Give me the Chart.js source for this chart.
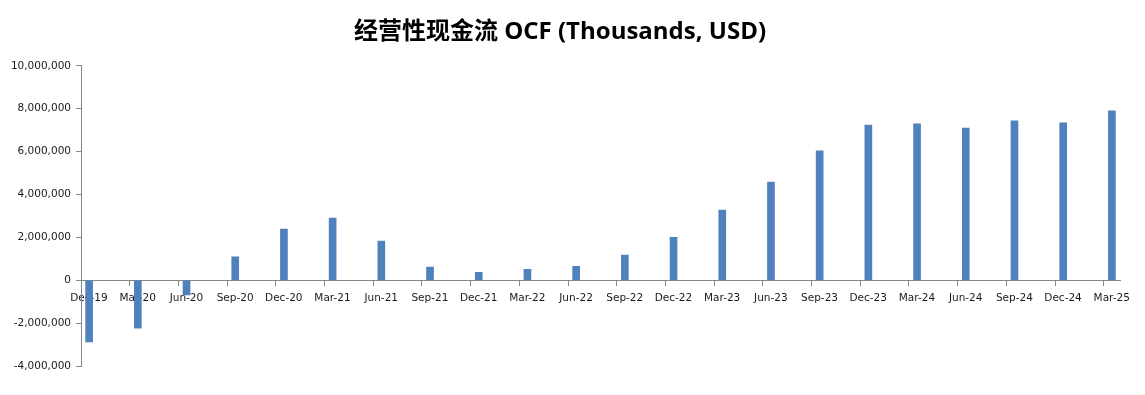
<!DOCTYPE html>
<html>
<head>
<meta charset="utf-8">
<script src="https://cdn.jsdelivr.net/npm/chart.js@4/dist/chart.umd.min.js"></script>
<style>
  html, body { margin: 0; padding: 0; background: #fff; }
  #wrap { width: 1145px; height: 395px; position: relative; }
</style>
</head>
<body>
<div id="wrap"><canvas id="c" width="1145" height="395"></canvas></div>
<script>
// Data (thousands USD)
const titleText = '经营性现金流 OCF (Thousands, USD)';
const categories = ['Dec-19','Mar-20','Jun-20','Sep-20','Dec-20','Mar-21','Jun-21','Sep-21','Dec-21','Mar-22','Jun-22','Sep-22','Dec-22','Mar-23','Jun-23','Sep-23','Dec-23','Mar-24','Jun-24','Sep-24','Dec-24','Mar-25'];
const ocfValues = [-2880000,-2240000,-680000,1090000,2380000,2900000,1820000,610000,370000,510000,650000,1170000,2000000,3270000,4580000,6030000,7240000,7290000,7100000,7430000,7340000,7900000];
const yTickMin = -4000000;
const yTickMax = 10000000;
const yTickStep = 2000000;

// Date axis in months: each quarter spans 3 months, bar sits in the first month of its quarter
const monthsPerCategory = 3;
const points = categories.map((c, i) => ({ x: i * monthsPerCategory + 0.5, y: ocfValues[i] }));

const tickFont = { family: "'DejaVu Sans', sans-serif", size: 10.5 };

new Chart(document.getElementById('c'), {
  type: 'bar',
  data: {
    datasets: [{
      data: points,
      backgroundColor: '#4f81bd',
      borderWidth: 0,
      barThickness: 7
    }]
  },
  options: {
    responsive: false,
    animation: false,
    layout: { padding: { left: 0, right: 25, top: 0, bottom: 29 } },
    plugins: {
      legend: { display: false },
      tooltip: { enabled: false },
      title: {
        display: true,
        text: titleText,
        color: '#000',
        font: { family: "'Open Sans', 'Noto Sans CJK SC', sans-serif", size: 24, weight: 'bold' },
        padding: { top: 18, bottom: 19 }
      }
    },
    scales: {
      x: {
        type: 'linear',
        position: { y: 0 },
        offset: false,
        min: 0,
        max: categories.length * monthsPerCategory - 2,
        afterBuildTicks: (scale) => {
          scale.ticks = categories.map((c, i) => ({ value: i * monthsPerCategory }));
        },
        grid: {
          display: true,
          offset: false,
          drawOnChartArea: false,
          drawTicks: true,
          tickLength: 5,
          color: '#868686'
        },
        border: { display: true, color: '#868686', width: 1 },
        ticks: {
          autoSkip: false,
          maxRotation: 0,
          minRotation: 0,
          padding: 7,
          labelOffset: 8,
          color: '#1a1a1a',
          font: tickFont,
          callback: (v) => categories[Math.round(v / monthsPerCategory)]
        }
      },
      y: {
        min: yTickMin,
        max: yTickMax,
        afterFit: (scale) => { scale.width = 81; },
        grid: {
          display: true,
          drawOnChartArea: false,
          drawTicks: true,
          tickLength: 5,
          color: '#868686'
        },
        border: { display: true, color: '#868686', width: 1 },
        ticks: {
          stepSize: yTickStep,
          padding: 5,
          color: '#1a1a1a',
          font: tickFont,
          callback: (v) => v.toLocaleString('en-US')
        }
      }
    }
  }
});
</script>
</body>
</html>
